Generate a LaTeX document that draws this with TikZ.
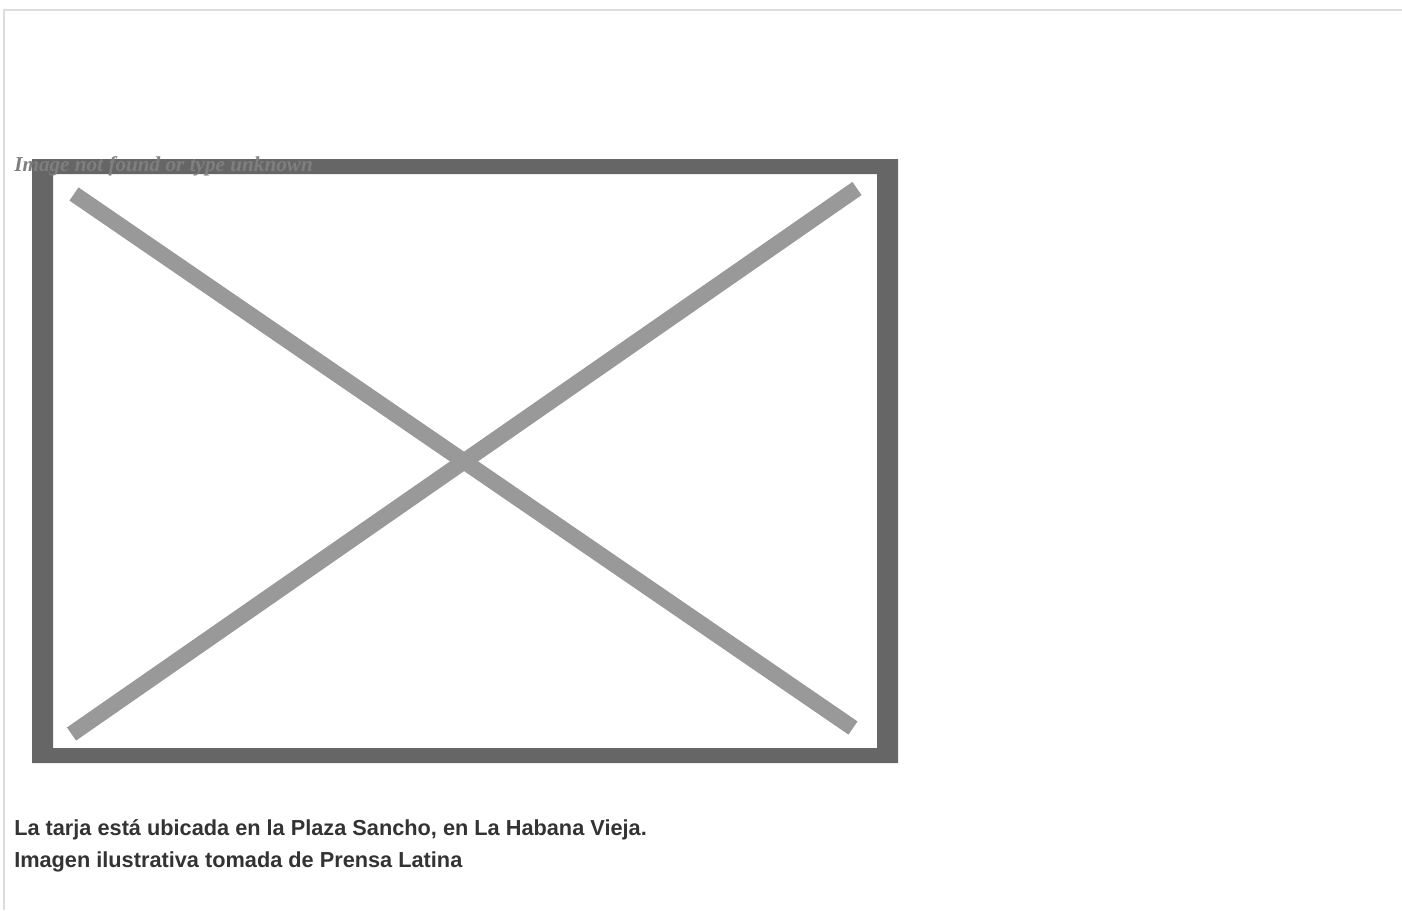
\documentclass[tikz,border=0pt]{standalone}
\usepackage{fontspec}
\setmainfont{Liberation Serif}
\newfontfamily\capfont{Liberation Sans}
\usetikzlibrary{positioning}

\definecolor{pagegray}{HTML}{DDDDDD}
\definecolor{framegray}{HTML}{666666}
\definecolor{crossgray}{HTML}{999999}
\definecolor{notegray}{HTML}{7F7F7F}
\definecolor{captext}{HTML}{333333}

\tikzset{
 pageline/.style={draw=pagegray, line width=1.5pt},
 crossline/.style={draw=crossgray, line width=12pt, line cap=butt},
 brokennote/.style={anchor=base west, inner sep=0pt, text=notegray,
   font=\fontsize{15.9}{18}\selectfont\bfseries\itshape},
 caption/.style={anchor=base west, inner sep=0pt, text=captext, align=left,
   font=\capfont\fontsize{16.3}{23.3}\selectfont\bfseries}
}

\begin{document}
\begin{tikzpicture}[x=0.75pt, y=-0.75pt]
 \useasboundingbox (0,0) rectangle (1402,910);
 % page edge
 \draw[pageline] (4,910) -- (4,10) -- (1402,10);
 % broken picture frame
 \fill[framegray, even odd rule] (32,159) rectangle (898,763)
  (53,174) rectangle (877,748);
 \coordinate (tl) at (74,194);
 \coordinate (br) at (853,728);
 \coordinate (bl) at (71.5,734);
 \coordinate (tr) at (857,188.5);
 \draw[crossline] (tl) -- (br);
 \draw[crossline] (bl) -- (tr);
 \node[brokennote] (missing) at (14,171.5) {Image not found or type unknown};
 % caption
 \node[caption] (cap) at (14,867)
  {La tarja está ubicada en la Plaza Sancho, en La Habana Vieja.\\
   Imagen ilustrativa tomada de Prensa Latina};
\end{tikzpicture}
\end{document}
